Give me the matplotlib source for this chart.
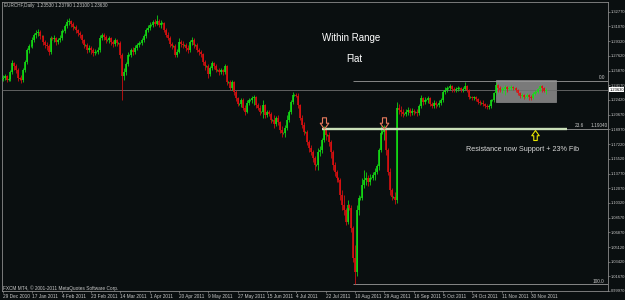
import numpy as np
import matplotlib
matplotlib.use("Agg")
import matplotlib.pyplot as plt
from matplotlib.path import Path
from matplotlib.patches import Rectangle
from matplotlib import font_manager

# ---------------- data (EURCHF daily) ----------------
opens = [
    1.2489, 1.2501, 1.2524, 1.2477, 1.2489, 1.2571, 1.2677, 1.2642, 1.2595, 1.2501, 1.2489, 1.2477, 1.2595, 1.2689, 1.2830, 1.2877,
    1.2877, 1.2948, 1.3006, 1.3030, 1.3042, 1.2995, 1.2995, 1.2924, 1.2889, 1.2877, 1.2806, 1.2971, 1.2959, 1.2971, 1.2924, 1.2948,
    1.2971, 1.3053, 1.3053, 1.3112, 1.3159, 1.3171, 1.3136, 1.3100, 1.3100, 1.3065, 1.3030, 1.3006, 1.2948, 1.2889, 1.2889, 1.2830,
    1.2854, 1.2830, 1.2795, 1.2806, 1.2806, 1.2830, 1.2971, 1.3006, 1.2983, 1.2948, 1.2948, 1.2971, 1.2924, 1.2901, 1.2948, 1.2912,
    1.2912, 1.2771, 1.2524, 1.2571, 1.2665, 1.2771, 1.2771, 1.2830, 1.2806, 1.2854, 1.2889, 1.2912, 1.2912, 1.2948, 1.2995, 1.3065,
    1.3089, 1.3124, 1.3124, 1.3159, 1.3136, 1.3171, 1.3124, 1.3148, 1.3148, 1.3065, 1.3006, 1.2971, 1.2901, 1.2877, 1.2877, 1.2771,
    1.2806, 1.2924, 1.2901, 1.2889, 1.2889, 1.2854, 1.2830, 1.2924, 1.2948, 1.2889, 1.2889, 1.2830, 1.2806, 1.2783, 1.2689, 1.2642,
    1.2642, 1.2548, 1.2618, 1.2677, 1.2642, 1.2595, 1.2595, 1.2571, 1.2595, 1.2571, 1.2642, 1.2454, 1.2454, 1.2383, 1.2454, 1.2336,
    1.2266, 1.2195, 1.2195, 1.2242, 1.2148, 1.2101, 1.2207, 1.2242, 1.2242, 1.2266, 1.2277, 1.2183, 1.2148, 1.2101, 1.2101, 1.2183,
    1.2066, 1.2101, 1.2077, 1.2007, 1.2007, 1.1960, 1.2030, 1.1983, 1.1889, 1.1854, 1.1854, 1.1913, 1.2007, 1.2101, 1.2218, 1.2301,
    1.2301, 1.2289, 1.2183, 1.2030, 1.1948, 1.1866, 1.1866, 1.1748, 1.1678, 1.1630, 1.1560, 1.1478, 1.1478, 1.1630, 1.1654, 1.1772,
    1.1889, 1.1830, 1.1830, 1.1748, 1.1630, 1.1478, 1.1395, 1.1325, 1.1301, 1.1125, 1.1007, 1.0948, 1.0807, 1.1007, 1.0972, 1.0737,
    1.0384, 1.0219, 1.0948, 1.1090, 1.1090, 1.1242, 1.1301, 1.1325, 1.1278, 1.1325, 1.1325, 1.1360, 1.1395, 1.1466, 1.1654, 1.1854,
    1.1866, 1.1889, 1.1654, 1.1395, 1.1184, 1.1101, 1.1101, 1.1066, 1.2148, 1.2124, 1.2101, 1.2077, 1.2077, 1.2101, 1.2124, 1.2089,
    1.2113, 1.2101, 1.2101, 1.2089, 1.2171, 1.2266, 1.2218, 1.2242, 1.2242, 1.2266, 1.2195, 1.2171, 1.2207, 1.2183, 1.2183, 1.2207,
    1.2242, 1.2336, 1.2360, 1.2383, 1.2383, 1.2407, 1.2371, 1.2360, 1.2371, 1.2383, 1.2383, 1.2360, 1.2371, 1.2407, 1.2360, 1.2277,
    1.2277, 1.2266, 1.2277, 1.2254, 1.2218, 1.2207, 1.2207, 1.2195, 1.2171, 1.2160, 1.2171, 1.2242, 1.2242, 1.2324, 1.2418, 1.2383,
    1.2360, 1.2371, 1.2371, 1.2395, 1.2371, 1.2383, 1.2395, 1.2383, 1.2383, 1.2360, 1.2324, 1.2289, 1.2301, 1.2277, 1.2277, 1.2301,
    1.2277, 1.2266, 1.2313, 1.2336, 1.2336, 1.2371, 1.2407, 1.2383, 1.2353,
]
highs = [
    1.2536, 1.2548, 1.2536, 1.2501, 1.2595, 1.2712, 1.2689, 1.2665, 1.2618, 1.2513, 1.2536, 1.2618, 1.2712, 1.2854, 1.2901, 1.2889,
    1.2983, 1.3030, 1.3065, 1.3077, 1.3065, 1.3006, 1.3006, 1.2948, 1.2924, 1.2901, 1.2995, 1.2983, 1.3006, 1.2983, 1.2971, 1.3006,
    1.3077, 1.3065, 1.3136, 1.3195, 1.3206, 1.3183, 1.3159, 1.3112, 1.3124, 1.3077, 1.3053, 1.3018, 1.2959, 1.2901, 1.2912, 1.2889,
    1.2877, 1.2854, 1.2842, 1.2818, 1.2865, 1.3006, 1.3030, 1.3030, 1.3006, 1.2959, 1.2995, 1.2983, 1.2948, 1.2971, 1.2959, 1.2924,
    1.2936, 1.2795, 1.2618, 1.2689, 1.2806, 1.2783, 1.2854, 1.2865, 1.2889, 1.2912, 1.2936, 1.2924, 1.2971, 1.3018, 1.3089, 1.3124,
    1.3159, 1.3136, 1.3183, 1.3195, 1.3242, 1.3195, 1.3183, 1.3159, 1.3159, 1.3089, 1.3042, 1.2995, 1.2924, 1.2889, 1.2901, 1.2842,
    1.2971, 1.2948, 1.2936, 1.2901, 1.2912, 1.2889, 1.2948, 1.2983, 1.2971, 1.2901, 1.2912, 1.2854, 1.2830, 1.2795, 1.2712, 1.2654,
    1.2665, 1.2642, 1.2701, 1.2689, 1.2665, 1.2607, 1.2618, 1.2618, 1.2607, 1.2665, 1.2654, 1.2466, 1.2477, 1.2477, 1.2466, 1.2360,
    1.2277, 1.2207, 1.2266, 1.2266, 1.2183, 1.2242, 1.2266, 1.2254, 1.2289, 1.2301, 1.2289, 1.2207, 1.2183, 1.2113, 1.2242, 1.2195,
    1.2124, 1.2124, 1.2101, 1.2019, 1.2066, 1.2054, 1.2066, 1.1995, 1.1936, 1.1866, 1.1948, 1.2066, 1.2124, 1.2242, 1.2336, 1.2313,
    1.2324, 1.2324, 1.2195, 1.2066, 1.1983, 1.1877, 1.1889, 1.1772, 1.1713, 1.1654, 1.1583, 1.1489, 1.1678, 1.1701, 1.1795, 1.1936,
    1.1913, 1.1842, 1.1866, 1.1772, 1.1654, 1.1513, 1.1419, 1.1336, 1.1325, 1.1184, 1.1125, 1.0972, 1.1066, 1.1019, 1.1007, 1.0760,
    1.0537, 1.1007, 1.1125, 1.1113, 1.1325, 1.1419, 1.1395, 1.1360, 1.1372, 1.1336, 1.1395, 1.1442, 1.1489, 1.1678, 1.1936, 1.1889,
    1.1948, 1.1925, 1.1678, 1.1442, 1.1207, 1.1113, 1.1160, 1.2218, 1.2195, 1.2171, 1.2136, 1.2089, 1.2136, 1.2160, 1.2148, 1.2148,
    1.2136, 1.2113, 1.2136, 1.2195, 1.2301, 1.2277, 1.2277, 1.2254, 1.2289, 1.2277, 1.2218, 1.2242, 1.2230, 1.2195, 1.2242, 1.2266,
    1.2360, 1.2395, 1.2407, 1.2395, 1.2430, 1.2418, 1.2395, 1.2395, 1.2407, 1.2395, 1.2395, 1.2395, 1.2454, 1.2418, 1.2371, 1.2289,
    1.2289, 1.2289, 1.2289, 1.2266, 1.2242, 1.2218, 1.2242, 1.2207, 1.2195, 1.2195, 1.2254, 1.2254, 1.2336, 1.2454, 1.2430, 1.2407,
    1.2395, 1.2383, 1.2418, 1.2407, 1.2407, 1.2418, 1.2407, 1.2395, 1.2395, 1.2371, 1.2336, 1.2324, 1.2313, 1.2289, 1.2324, 1.2313,
    1.2301, 1.2336, 1.2360, 1.2348, 1.2383, 1.2418, 1.2418, 1.2395, 1.2379,
]
lows = [
    1.2466, 1.2477, 1.2454, 1.2466, 1.2466, 1.2548, 1.2595, 1.2560, 1.2466, 1.2477, 1.2442, 1.2454, 1.2571, 1.2665, 1.2795, 1.2865,
    1.2854, 1.2924, 1.2971, 1.2995, 1.2959, 1.2983, 1.2889, 1.2854, 1.2830, 1.2771, 1.2783, 1.2948, 1.2924, 1.2889, 1.2901, 1.2924,
    1.2948, 1.3042, 1.3030, 1.3089, 1.3124, 1.3100, 1.3065, 1.3089, 1.3030, 1.2995, 1.2971, 1.2912, 1.2854, 1.2877, 1.2795, 1.2806,
    1.2783, 1.2759, 1.2771, 1.2795, 1.2783, 1.2806, 1.2948, 1.2948, 1.2912, 1.2936, 1.2912, 1.2889, 1.2865, 1.2877, 1.2877, 1.2901,
    1.2736, 1.2242, 1.2477, 1.2536, 1.2642, 1.2759, 1.2748, 1.2771, 1.2783, 1.2830, 1.2865, 1.2901, 1.2889, 1.2924, 1.2971, 1.3042,
    1.3065, 1.3112, 1.3100, 1.3112, 1.3124, 1.3100, 1.3089, 1.3136, 1.3042, 1.2983, 1.2948, 1.2865, 1.2842, 1.2865, 1.2748, 1.2748,
    1.2795, 1.2865, 1.2854, 1.2877, 1.2818, 1.2795, 1.2806, 1.2889, 1.2854, 1.2877, 1.2806, 1.2771, 1.2748, 1.2654, 1.2595, 1.2630,
    1.2501, 1.2524, 1.2595, 1.2607, 1.2571, 1.2583, 1.2536, 1.2548, 1.2536, 1.2548, 1.2418, 1.2442, 1.2360, 1.2360, 1.2301, 1.2230,
    1.2171, 1.2183, 1.2160, 1.2124, 1.2066, 1.2089, 1.2183, 1.2230, 1.2207, 1.2183, 1.2148, 1.2124, 1.2066, 1.2089, 1.2030, 1.2030,
    1.2042, 1.2054, 1.1972, 1.1995, 1.1913, 1.1936, 1.1948, 1.1854, 1.1807, 1.1842, 1.1807, 1.1889, 1.1983, 1.2077, 1.2195, 1.2289,
    1.2277, 1.2148, 1.2007, 1.1913, 1.1830, 1.1854, 1.1713, 1.1630, 1.1595, 1.1513, 1.1419, 1.1466, 1.1419, 1.1583, 1.1619, 1.1748,
    1.1772, 1.1819, 1.1701, 1.1560, 1.1419, 1.1348, 1.1278, 1.1278, 1.1066, 1.0948, 1.0890, 1.0772, 1.0784, 1.0948, 1.0690, 1.0337,
    1.0078, 1.0172, 1.0890, 1.1066, 1.1066, 1.1207, 1.1242, 1.1231, 1.1242, 1.1313, 1.1301, 1.1301, 1.1372, 1.1419, 1.1630, 1.1842,
    1.1772, 1.1595, 1.1360, 1.1125, 1.1066, 1.1090, 1.1019, 1.1031, 1.2077, 1.2054, 1.2042, 1.2066, 1.2054, 1.2066, 1.2054, 1.2066,
    1.2066, 1.2089, 1.2054, 1.2066, 1.2148, 1.2183, 1.2195, 1.2230, 1.2207, 1.2171, 1.2148, 1.2148, 1.2148, 1.2171, 1.2160, 1.2183,
    1.2218, 1.2313, 1.2336, 1.2371, 1.2360, 1.2336, 1.2336, 1.2336, 1.2348, 1.2371, 1.2336, 1.2336, 1.2360, 1.2336, 1.2254, 1.2266,
    1.2242, 1.2242, 1.2230, 1.2195, 1.2183, 1.2195, 1.2171, 1.2148, 1.2136, 1.2136, 1.2148, 1.2230, 1.2218, 1.2301, 1.2336, 1.2336,
    1.2324, 1.2360, 1.2301, 1.2336, 1.2360, 1.2360, 1.2360, 1.2371, 1.2336, 1.2301, 1.2266, 1.2266, 1.2254, 1.2266, 1.2266, 1.2242,
    1.2242, 1.2254, 1.2301, 1.2324, 1.2324, 1.2348, 1.2336, 1.2336, 1.2310,
]
closes = [
    1.2501, 1.2524, 1.2477, 1.2489, 1.2571, 1.2677, 1.2642, 1.2595, 1.2501, 1.2489, 1.2477, 1.2595, 1.2689, 1.2830, 1.2877, 1.2877,
    1.2948, 1.3006, 1.3030, 1.3042, 1.2995, 1.2995, 1.2924, 1.2889, 1.2877, 1.2806, 1.2971, 1.2959, 1.2971, 1.2924, 1.2948, 1.2971,
    1.3053, 1.3053, 1.3112, 1.3159, 1.3171, 1.3136, 1.3100, 1.3100, 1.3065, 1.3030, 1.3006, 1.2948, 1.2889, 1.2889, 1.2830, 1.2854,
    1.2830, 1.2795, 1.2806, 1.2806, 1.2830, 1.2971, 1.3006, 1.2983, 1.2948, 1.2948, 1.2971, 1.2924, 1.2901, 1.2948, 1.2912, 1.2912,
    1.2771, 1.2524, 1.2571, 1.2665, 1.2771, 1.2771, 1.2830, 1.2806, 1.2854, 1.2889, 1.2912, 1.2912, 1.2948, 1.2995, 1.3065, 1.3089,
    1.3124, 1.3124, 1.3159, 1.3136, 1.3171, 1.3124, 1.3148, 1.3148, 1.3065, 1.3006, 1.2971, 1.2901, 1.2877, 1.2877, 1.2771, 1.2806,
    1.2924, 1.2901, 1.2889, 1.2889, 1.2854, 1.2830, 1.2924, 1.2948, 1.2889, 1.2889, 1.2830, 1.2806, 1.2783, 1.2689, 1.2642, 1.2642,
    1.2548, 1.2618, 1.2677, 1.2642, 1.2595, 1.2595, 1.2571, 1.2595, 1.2571, 1.2642, 1.2454, 1.2454, 1.2383, 1.2454, 1.2336, 1.2266,
    1.2195, 1.2195, 1.2242, 1.2148, 1.2101, 1.2207, 1.2242, 1.2242, 1.2266, 1.2277, 1.2183, 1.2148, 1.2101, 1.2101, 1.2183, 1.2066,
    1.2101, 1.2077, 1.2007, 1.2007, 1.1960, 1.2030, 1.1983, 1.1889, 1.1854, 1.1854, 1.1913, 1.2007, 1.2101, 1.2218, 1.2301, 1.2301,
    1.2289, 1.2183, 1.2030, 1.1948, 1.1866, 1.1866, 1.1748, 1.1678, 1.1630, 1.1560, 1.1478, 1.1478, 1.1630, 1.1654, 1.1772, 1.1889,
    1.1830, 1.1830, 1.1748, 1.1630, 1.1478, 1.1395, 1.1325, 1.1301, 1.1125, 1.1007, 1.0948, 1.0807, 1.1007, 1.0972, 1.0737, 1.0384,
    1.0219, 1.0948, 1.1090, 1.1090, 1.1242, 1.1301, 1.1325, 1.1278, 1.1325, 1.1325, 1.1360, 1.1395, 1.1466, 1.1654, 1.1854, 1.1866,
    1.1889, 1.1654, 1.1395, 1.1184, 1.1101, 1.1101, 1.1066, 1.2148, 1.2124, 1.2101, 1.2077, 1.2077, 1.2101, 1.2124, 1.2089, 1.2113,
    1.2101, 1.2101, 1.2089, 1.2171, 1.2266, 1.2218, 1.2242, 1.2242, 1.2266, 1.2195, 1.2171, 1.2207, 1.2183, 1.2183, 1.2207, 1.2242,
    1.2336, 1.2360, 1.2383, 1.2383, 1.2407, 1.2371, 1.2360, 1.2371, 1.2383, 1.2383, 1.2360, 1.2371, 1.2407, 1.2360, 1.2277, 1.2277,
    1.2266, 1.2277, 1.2254, 1.2218, 1.2207, 1.2207, 1.2195, 1.2171, 1.2160, 1.2171, 1.2242, 1.2242, 1.2324, 1.2418, 1.2383, 1.2360,
    1.2371, 1.2371, 1.2395, 1.2371, 1.2383, 1.2395, 1.2383, 1.2383, 1.2360, 1.2324, 1.2289, 1.2301, 1.2277, 1.2277, 1.2301, 1.2277,
    1.2266, 1.2313, 1.2336, 1.2336, 1.2371, 1.2407, 1.2383, 1.2353, 1.2363,
]

date_labels = ["29 Dec 2010", "17 Jan 2011", "4 Feb 2011", "23 Feb 2011", "14 Mar 2011",
               "1 Apr 2011", "20 Apr 2011", "9 May 2011", "27 May 2011", "15 Jun 2011",
               "4 Jul 2011", "22 Jul 2011", "10 Aug 2011", "29 Aug 2011", "16 Sep 2011",
               "5 Oct 2011", "24 Oct 2011", "11 Nov 2011", "30 Nov 2011"]
bars_per_label = 16

price_ticks = [1.32770, 1.31070, 1.29320, 1.27620, 1.25870, 1.24170, 1.22420, 1.20670,
               1.18970, 1.17220, 1.15520, 1.13770, 1.12070, 1.10320, 1.08570, 1.06870,
               1.05120, 1.03420, 1.01670, 0.99970]

fib_high = 1.2469
fib_low = 1.0075
fib_start_bar = 191
last_price = 1.2363
header = "EURCHF,Daily  1.23530 1.23790 1.23100 1.23630"

support_start_bar, support_end_bar = 174, 307.7
range_box = dict(start=269, end=301.7, top=1.2477, bottom=1.2218)
red_arrow_bars = [175.1, 207.9]
red_arrow_price = 1.1966
yellow_arrow_bar = 290.2
yellow_arrow_price = 1.1836

# ---------------- styling ----------------
BG = "#0a0f10"
GREEN = "#14e014"
RED = "#e01010"
AXC = "#8c8c8c"
TXT = "#c8c8c8"
plt.rcParams["font.family"] = ["Liberation Sans", "DejaVu Sans"]

installed = {f.name for f in font_manager.fontManager.ttflist}
if "Liberation Sans Narrow" in installed:
    AXIS_FONT, AXIS_FS = "Liberation Sans Narrow", 3.4
else:
    AXIS_FONT, AXIS_FS = "Liberation Sans", 2.85

W, H = 625, 300
fig = plt.figure(figsize=(W / 100, H / 100), dpi=100)
fig.patch.set_facecolor(BG)
ax = fig.add_axes([2 / W, 9 / H, 606 / W, 289 / H])
ax.set_facecolor(BG)

n = min(len(opens), len(highs), len(lows), len(closes))
x = np.arange(n)
o = np.array(opens[:n]); h = np.array(highs[:n]); l = np.array(lows[:n]); c = np.array(closes[:n])
up = c >= o
blo = np.minimum(o, c); bhi = np.maximum(o, c)
min_body = 0.0007
thin = (bhi - blo) < min_body
mid = (bhi + blo) / 2
blo = np.where(thin, mid - min_body / 2, blo)
bhi = np.where(thin, mid + min_body / 2, bhi)

for mask, col in [(up, GREEN), (~up, RED)]:
    ax.vlines(x[mask], l[mask], h[mask], color=col, lw=0.55, zorder=4)
    ax.vlines(x[mask], blo[mask], bhi[mask], color=col, lw=1.15, zorder=5)

xmin, xmax = -0.55, 330.05
ax.set_xlim(xmin, xmax)
ax.set_ylim(0.9996, 1.3394)

# range box
ax.add_patch(Rectangle((range_box["start"], range_box["bottom"]),
                       range_box["end"] - range_box["start"],
                       range_box["top"] - range_box["bottom"],
                       facecolor="#7a7a7a", edgecolor="#8a8a8a", lw=0.5, zorder=2))

# fibonacci levels
fib_levels = [0.0, 23.6, 100.0]
fib_prices = [fib_high - lv / 100 * (fib_high - fib_low) for lv in fib_levels]
for p in fib_prices:
    ax.hlines(p, fib_start_bar, xmax, color="#9a9a9a", lw=0.6, zorder=3)
# support trendline over 23.6
ax.hlines(fib_prices[1], support_start_bar, support_end_bar, color="#c9dfb8", lw=1.7, zorder=6)

# current price line
ax.axhline(last_price, color="#6e6e6e", lw=0.6, zorder=3)

# labels of fib levels
tr = ax.get_yaxis_transform()
fs_small = 3.4
ax.text(0.995, fib_prices[0] + 0.0008, "0.0", transform=tr, ha="right", va="bottom",
        color=TXT, fontsize=fs_small, zorder=7)
ax.text(0.9455, fib_prices[1] + 0.0008, "23.6", transform=tr, ha="left", va="bottom",
        color=TXT, fontsize=fs_small, zorder=7)
ax.text(0.972, fib_prices[1] + 0.0008, "1.19040", transform=tr, ha="left", va="bottom",
        color=TXT, fontsize=fs_small, zorder=7)
ax.text(0.9945, fib_prices[2] + 0.0008, "100.0", transform=tr, ha="right", va="bottom",
        color=TXT, fontsize=fs_small, zorder=7)

# arrows
down_arrow = Path([(-0.35, 1), (0.35, 1), (0.35, 0.05), (0.75, 0.05), (0, -1),
                   (-0.75, 0.05), (-0.35, 0.05), (-0.35, 1)],
                  [Path.MOVETO] + [Path.LINETO] * 6 + [Path.CLOSEPOLY])
up_arrow = Path([(vx, -vy) for vx, vy in down_arrow.vertices], down_arrow.codes)
ax.plot(red_arrow_bars, [red_arrow_price] * len(red_arrow_bars), ls="none",
        marker=down_arrow, ms=8.2, mfc="none", mec="#e87a5e", mew=0.8, zorder=8)
ax.plot([yellow_arrow_bar], [yellow_arrow_price], ls="none",
        marker=up_arrow, ms=7.2, mfc="none", mec="#e6e600", mew=0.8, zorder=8)

# axes cosmetics
for s in ax.spines.values():
    s.set_color(AXC)
    s.set_linewidth(0.6)
ax.yaxis.tick_right()
ax.set_yticks(price_ticks)
ax.set_yticklabels([f"{p:.5f}" for p in price_ticks])
ax.tick_params(axis="y", colors=AXC, labelcolor=TXT, labelsize=AXIS_FS, length=1.2,
               width=0.5, pad=0.6)
for lbl in ax.get_yticklabels():
    lbl.set_family([AXIS_FONT, "DejaVu Sans"])
ax.set_xticks(np.arange(len(date_labels)) * bars_per_label)
ax.set_xticklabels(date_labels)
ax.tick_params(axis="x", colors=AXC, labelcolor=TXT, labelsize=fs_small, length=1.6,
               width=0.5, pad=0.8)
for lbl in ax.get_xticklabels():
    lbl.set_ha("left")

# current price tag
ax.annotate(f"{last_price:.5f}", xy=(1.0, last_price), xycoords=tr,
            xytext=(1.0, 0), textcoords="offset points", ha="left", va="center",
            fontsize=AXIS_FS, family=[AXIS_FONT, "DejaVu Sans"], color="black",
            annotation_clip=False,
            bbox=dict(boxstyle="square,pad=0.1", fc="white", ec="white", lw=0))

# free texts
fig.text(4 / W, 1 - 5 / H, header, color=TXT, fontsize=3.3, ha="left", va="center")
fig.text(3 / W, 1 - 288 / H, "FXCM MT4, \u00a9 2001-2011 MetaQuotes Software Corp.",
         color=TXT, fontsize=3.4, ha="left", va="center")
fig.text(351 / W, 1 - 38 / H, "Within Range", color="white", fontsize=7, ha="center", va="center")
fig.text(354 / W, 1 - 59.5 / H, "Flat", color="white", fontsize=7, ha="center", va="center")
fig.text(522 / W, 1 - 149.5 / H, "Resistance now Support + 23% Fib", color="#d8d8d8",
         fontsize=5.2, ha="center", va="center")

fig.savefig("out.png", dpi=100, facecolor=BG)
